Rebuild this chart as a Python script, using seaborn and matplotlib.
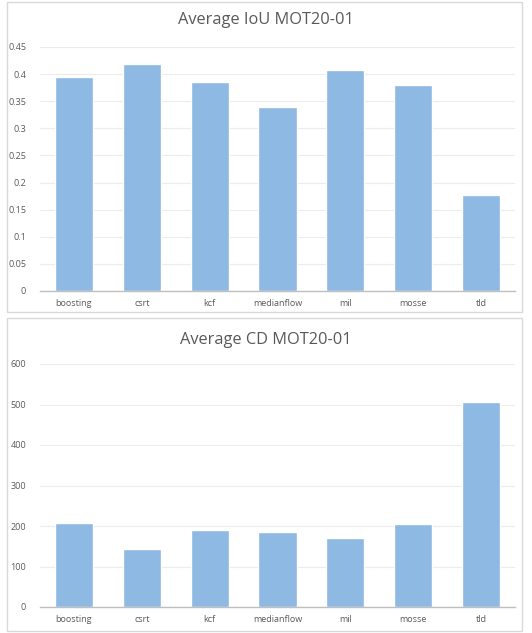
import matplotlib
matplotlib.use("Agg")
import matplotlib.pyplot as plt
import seaborn as sns
import pandas as pd
from matplotlib.patches import Rectangle

trackers = ["boosting", "csrt", "kcf", "medianflow", "mil", "mosse", "tld"]
iou_values = [0.395, 0.418, 0.385, 0.339, 0.408, 0.380, 0.177]
cd_values = [207, 143, 190, 185, 170, 205, 506]

iou_ticks = [0, 0.05, 0.1, 0.15, 0.2, 0.25, 0.3, 0.35, 0.4, 0.45]
iou_tick_labels = ["0", "0.05", "0.1", "0.15", "0.2", "0.25", "0.3", "0.35", "0.4", "0.45"]
cd_ticks = [0, 100, 200, 300, 400, 500, 600]

sns.set_theme(style="white")
plt.rcParams['font.family'] = ['Open Sans', 'DejaVu Sans']

BAR = "#8db9e3"
TEXT = "#595959"
W, H = 532, 633

fig = plt.figure(figsize=(W / 100, H / 100), dpi=100)
fig.patch.set_facecolor("white")

# panel frames (figure pixel coords)
for (x0, y0, x1, y1) in [(7, 2, 522, 312), (7, 318, 522, 631)]:
    fig.add_artist(Rectangle((x0 / W, 1 - y1 / H), (x1 - x0) / W, (y1 - y0) / H,
                             transform=fig.transFigure, fill=False,
                             edgecolor="#d9d9d9", linewidth=1))

def make_axes(left, right, top, bottom):
    return fig.add_axes([left / W, 1 - bottom / H, (right - left) / W, (bottom - top) / H])

ax1 = make_axes(40, 515, 47, 291)
ax2 = make_axes(40, 515, 364, 607)

df_iou = pd.DataFrame({"tracker": trackers, "value": iou_values})
df_cd = pd.DataFrame({"tracker": trackers, "value": cd_values})

panels = [
    (ax1, df_iou, "Average IoU MOT20-01", iou_ticks, iou_tick_labels, 0.45, 20),
    (ax2, df_cd, "Average CD MOT20-01", cd_ticks, [str(t) for t in cd_ticks], 600, 340),
]

for ax, df, title, ticks, labels, ymax, title_y in panels:
    sns.barplot(data=df, x="tracker", y="value", color=BAR, saturation=1,
                width=0.56, ax=ax, zorder=2)
    ax.set_ylim(0, ymax)
    ax.set_xlim(-0.5, len(trackers) - 0.5)
    ax.set_yticks(ticks)
    ax.set_yticklabels(labels)
    ax.yaxis.grid(True, color="#ececec", linewidth=0.8, zorder=0)
    ax.set_axisbelow(True)
    for s in ["top", "right", "left"]:
        ax.spines[s].set_visible(False)
    ax.spines["bottom"].set_color("#bfbfbf")
    ax.spines["bottom"].set_linewidth(1)
    ax.tick_params(axis="both", length=0, labelsize=6.5, colors=TEXT, pad=6)
    ax.tick_params(axis="y", pad=10)
    ax.set_xlabel("")
    ax.set_ylabel("")
    fig.text(266 / W, 1 - title_y / H, title, fontsize=11.8, color=TEXT,
             ha="center", va="center")

fig.savefig("out.png", dpi=100, facecolor="white")
